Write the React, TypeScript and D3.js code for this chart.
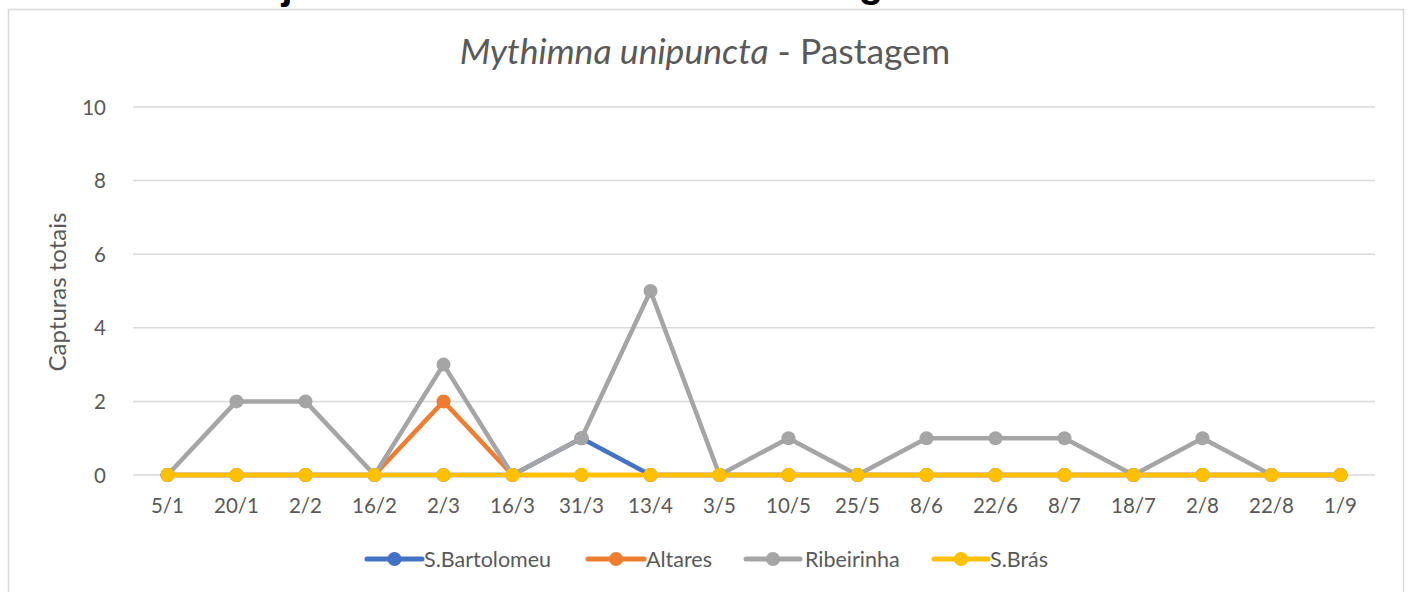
import React from "react";
import * as d3 from "d3";

const categories = ["5/1","20/1","2/2","16/2","2/3","16/3","31/3","13/4","3/5","10/5","25/5","8/6","22/6","8/7","18/7","2/8","22/8","1/9"];
const seriesNames = ["S.Bartolomeu","Altares","Ribeirinha","S.Brás"];
const sBartolomeu = [0,0,0,0,0,0,1,0,0,0,0,0,0,0,0,0,0,0];
const altares = [0,0,0,0,2,0,0,0,0,0,0,0,0,0,0,0,0,0];
const ribeirinha = [0,2,2,0,3,0,1,5,0,1,0,1,1,1,0,1,0,0];
const sBras = [0,0,0,0,0,0,0,0,0,0,0,0,0,0,0,0,0,0];
const yTicks = [0,2,4,6,8,10];
const colors = ["#4472C4","#ED7D31","#A5A5A5","#FFC000"];

const W = 1408, H = 592;
const font = "Lato, 'Open Sans', sans-serif";

export default function App() {
  const x = d3.scaleBand<string>().domain(categories).range([133, 1375]);
  const y = d3.scaleLinear().domain([0, 10]).range([475, 107]);
  const cx = (c: string) => (x(c) as number) + x.bandwidth() / 2;
  const line = d3.line<number>().x((_, i) => cx(categories[i])).y(v => y(v));
  const data = [sBartolomeu, altares, ribeirinha, sBras];
  const legendX = [[367, 422, 424], [588, 644, 646], [746, 800, 805], [934, 988, 990]];
  const ly = 559;
  return (
    <svg width={W} height={H} style={{ position: "absolute", left: 0, top: 0, background: "#fff" }}>
      <text x={287} y={-1} fontFamily="'Liberation Sans', sans-serif" fontWeight="bold" fontSize={40} fill="#000" textAnchor="middle">j</text>
      <text x={871} y={-3} fontFamily="'Liberation Sans', sans-serif" fontWeight="bold" fontSize={40} fill="#000" textAnchor="middle">g</text>
      <rect x={8.5} y={9.5} width={1395} height={620} fill="#fff" stroke="#d9d9d9" strokeWidth={1.5} />
      <text x={705} y={64} textAnchor="middle" fontFamily={font} fontSize={35.5} fill="#595959">
        <tspan fontStyle="italic">Mythimna unipuncta</tspan> - Pastagem
      </text>
      {yTicks.map(t => (
        <g key={t}>
          <line x1={133} x2={1375} y1={y(t)} y2={y(t)} stroke="#d9d9d9" strokeWidth={1.5} />
          <text x={106} y={y(t) + 7.5} textAnchor="end" fontFamily={font} fontSize={20.5} fill="#595959">{t}</text>
        </g>
      ))}
      <text transform="translate(66,292) rotate(-90)" textAnchor="middle" fontFamily={font} fontSize={24} fill="#595959">Capturas totais</text>
      {categories.map(c => (
        <text key={c} x={cx(c)} y={513} textAnchor="middle" fontFamily={font} fontSize={20.5} fill="#595959">{c}</text>
      ))}
      {data.map((d, si) => (
        <g key={si}>
          <path d={line(d) as string} fill="none" stroke={colors[si]} strokeWidth={4.5} strokeLinejoin="round" />
          {d.map((v, i) => (
            <circle key={i} cx={cx(categories[i])} cy={y(v)} r={7} fill={colors[si]} />
          ))}
        </g>
      ))}
      {seriesNames.map((n, i) => (
        <g key={n}>
          <line x1={legendX[i][0]} x2={legendX[i][1]} y1={ly} y2={ly} stroke={colors[i]} strokeWidth={5} strokeLinecap="round" />
          <circle cx={(legendX[i][0] + legendX[i][1]) / 2} cy={ly} r={7} fill={colors[i]} />
          <text x={legendX[i][2]} y={ly + 7.5} fontFamily={font} fontSize={21.5} fill="#595959">{n}</text>
        </g>
      ))}
    </svg>
  );
}
